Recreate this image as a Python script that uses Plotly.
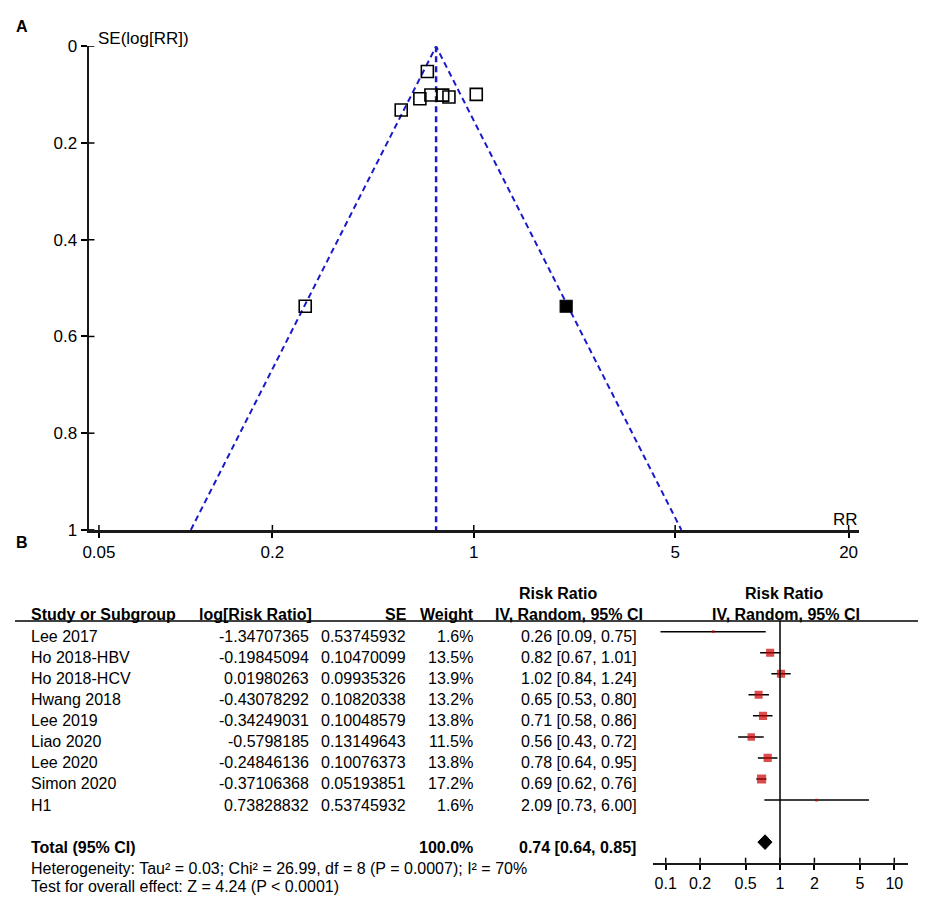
import numpy as np
import plotly.graph_objects as go

# target picture is 927x912; the page keeps the default 8px body margin,
# so the figure itself is made 16px smaller and every position is offset by 8
W, H = 927, 912
M = 8
PW, PH = W - 2 * M, H - 2 * M

# ---- data ----
studies = ["Lee 2017", "Ho 2018-HBV", "Ho 2018-HCV", "Hwang 2018", "Lee 2019",
           "Liao 2020", "Lee 2020", "Simon 2020", "H1"]
log_rr_txt = ["-1.34707365", "-0.19845094", "0.01980263", "-0.43078292", "-0.34249031",
              "-0.5798185", "-0.24846136", "-0.37106368", "0.73828832"]
se_txt = ["0.53745932", "0.10470099", "0.09935326", "0.10820338", "0.10048579",
          "0.13149643", "0.10076373", "0.05193851", "0.53745932"]
weight = [1.6, 13.5, 13.9, 13.2, 13.8, 11.5, 13.8, 17.2, 1.6]
rr = [0.26, 0.82, 1.02, 0.65, 0.71, 0.56, 0.78, 0.69, 2.09]
ci_lo = [0.09, 0.67, 0.84, 0.53, 0.58, 0.43, 0.64, 0.62, 0.73]
ci_hi = [0.75, 1.01, 1.24, 0.80, 0.86, 0.72, 0.95, 0.76, 6.00]
imputed = [False, False, False, False, False, False, False, False, True]

pooled_rr, pooled_lo, pooled_hi = 0.74, 0.64, 0.85
total_weight = "100.0%"
heterogeneity = "Heterogeneity: Tau² = 0.03; Chi² = 26.99, df = 8 (P = 0.0007); I² = 70%"
overall = "Test for overall effect: Z = 4.24 (P < 0.0001)"

funnel_xticks = [0.05, 0.2, 1, 5, 20]
funnel_yticks = [0, 0.2, 0.4, 0.6, 0.8, 1]
forest_xticks = [0.1, 0.2, 0.5, 1, 2, 5, 10]

log_rr = np.array([float(v) for v in log_rr_txt])
se = np.array([float(v) for v in se_txt])

FONT = "Liberation Sans, Arial, sans-serif"
BLUE = "#1a1acc"
RED = "#cc0000"


def px(x):
    return (x - M) / PW


def py(y):
    return 1 - (y - M) / PH


fig = go.Figure()

# ---- A: funnel plot ----
se_max = funnel_yticks[-1]
fig.add_trace(go.Scatter(
    x=[pooled_rr * np.exp(-1.96 * se_max), pooled_rr, pooled_rr * np.exp(1.96 * se_max)],
    y=[se_max, 0, se_max], mode="lines",
    line=dict(color=BLUE, width=2, dash="6px,4px"),
    xaxis="x", yaxis="y", showlegend=False, hoverinfo="skip"))
fig.add_trace(go.Scatter(
    x=[pooled_rr, pooled_rr], y=[0, se_max], mode="lines",
    line=dict(color=BLUE, width=2.5, dash="6px,4px"),
    xaxis="x", yaxis="y", showlegend=False, hoverinfo="skip"))
obs = [i for i in range(len(studies)) if not imputed[i]]
imp = [i for i in range(len(studies)) if imputed[i]]
fig.add_trace(go.Scatter(
    x=np.exp(log_rr[obs]), y=se[obs], mode="markers",
    marker=dict(symbol="square-open", size=12, color="black", line=dict(width=1.6)),
    xaxis="x", yaxis="y", showlegend=False))
fig.add_trace(go.Scatter(
    x=np.exp(log_rr[imp]), y=se[imp], mode="markers",
    marker=dict(symbol="square", size=12, color="black", line=dict(width=1.2, color="black")),
    xaxis="x", yaxis="y", showlegend=False))

# ---- B: forest plot ----
rows = list(range(len(studies)))
total_row = len(studies) + 1
cx, cy = [], []
for r, lo, hi in zip(rows, ci_lo, ci_hi):
    cx += [lo, hi, None]
    cy += [r, r, None]
fig.add_trace(go.Scatter(x=cx, y=cy, mode="lines", line=dict(color="black", width=1.5),
                         xaxis="x2", yaxis="y2", showlegend=False, hoverinfo="skip"))
fig.add_trace(go.Scatter(
    x=rr, y=rows, mode="markers",
    marker=dict(symbol="square", color=RED, size=[2.2 * np.sqrt(w) for w in weight],
                line=dict(width=0)),
    xaxis="x2", yaxis="y2", showlegend=False))
dh = 0.35
fig.add_trace(go.Scatter(
    x=[pooled_lo, pooled_rr, pooled_hi, pooled_rr, pooled_lo],
    y=[total_row, total_row - dh, total_row, total_row + dh, total_row],
    mode="lines", fill="toself", fillcolor="black", line=dict(color="black", width=1),
    xaxis="x2", yaxis="y2", showlegend=False, hoverinfo="skip"))

shapes = []
# crossing ticks (inner halves)
for t in funnel_xticks:
    shapes.append(dict(type="line", xref="x", yref="y", x0=t, x1=t, y0=1, y1=1 - 5 / 494,
                       line=dict(color="black", width=1.5)))
for t in funnel_yticks:
    shapes.append(dict(type="line", xref="x domain", yref="y", x0=0, x1=6 / 776, y0=t, y1=t,
                       line=dict(color="black", width=1.5)))
for t in forest_xticks:
    shapes.append(dict(type="line", xref="x2", yref="y2 domain", x0=t, x1=t, y0=0, y1=5 / 247,
                       line=dict(color="black", width=1.5)))
# line of no effect
shapes.append(dict(type="line", xref="x2", yref="y2 domain", x0=1, x1=1, y0=0, y1=1,
                   line=dict(color="black", width=1.5)))
# header rule
shapes.append(dict(type="line", xref="paper", yref="paper", x0=px(9), x1=px(918),
                   y0=py(625), y1=py(625), line=dict(color="black", width=1.5)))

ann = []


def txt(s, x, y, anchor="left", bold=False, size=16, yref="paper", yshift=0):
    if bold:
        s = "<b>" + s + "</b>"
    ann.append(dict(text=s, x=px(x), y=y, xref="paper", yref=yref, xanchor=anchor,
                    yanchor="middle", showarrow=False, yshift=yshift,
                    font=dict(family=FONT, size=size, color="black")))


txt("A", 8, py(18), bold=True, size=16)
txt("B", 8, py(545), bold=True, size=16)
txt("SE(log[RR])", 91, py(30), size=17)
txt("RR", 845, py(521), anchor="center", size=17)

# table headers
txt("Risk Ratio", 556, py(597), anchor="center", bold=True)
txt("Risk Ratio", 783, py(597), anchor="center", bold=True)
txt("Study or Subgroup", 23, py(618), bold=True)
txt("log[Risk Ratio]", 310, py(618), anchor="right", bold=True)
txt("SE", 406, py(618), anchor="right", bold=True)
txt("Weight", 473, py(618), anchor="right", bold=True)
txt("IV, Random, 95% CI", 643, py(618), anchor="right", bold=True)
txt("IV, Random, 95% CI", 785, py(618), anchor="center", bold=True)

for r in rows:
    txt(studies[r], 23, r, yref="y2", yshift=-5)
    txt(log_rr_txt[r], 307, r, anchor="right", yref="y2", yshift=-5)
    txt(se_txt[r], 405, r, anchor="right", yref="y2", yshift=-5)
    txt(f"{weight[r]:.1f}%", 472, r, anchor="right", yref="y2", yshift=-5)
    txt(f"{rr[r]:.2f} [{ci_lo[r]:.2f}, {ci_hi[r]:.2f}]", 637, r, anchor="right",
        yref="y2", yshift=-5)

txt("Total (95% CI)", 23, total_row, bold=True, yref="y2", yshift=-5)
txt(total_weight, 472, total_row, anchor="right", bold=True, yref="y2", yshift=-5)
txt(f"{pooled_rr:.2f} [{pooled_lo:.2f}, {pooled_hi:.2f}]", 636, total_row, anchor="right",
    bold=True, yref="y2", yshift=-5)
txt(heterogeneity, 23, py(878))
txt(overall, 23, py(896))

# forest y mapping: row r sits at pixel 636 + 21.5 r
r_top = (625 - 636) / 21.5
r_bot = (872 - 636) / 21.5

axis_common = dict(showline=True, linecolor="#1a1a1a", showgrid=False, zeroline=False,
                   ticks="outside", tickcolor="black", tickwidth=1.5, fixedrange=True)

fig.update_layout(
    width=PW, height=PH, margin=dict(l=0, r=0, t=0, b=0),
    plot_bgcolor="white", paper_bgcolor="white",
    font=dict(family=FONT, color="black"),
    xaxis=dict(type="log", domain=[px(83), px(859)],
               range=[np.log10(0.046), np.log10(21.8)], anchor="y",
               tickvals=funnel_xticks, ticktext=[str(t) for t in funnel_xticks],
               ticklen=5, linewidth=2.5, tickfont=dict(size=17), **axis_common),
    yaxis=dict(domain=[py(532), py(38)], range=[1, 0], anchor="x",
               tickvals=funnel_yticks, ticktext=["0", "0.2", "0.4", "0.6", "0.8", "1"],
               ticklen=6, linewidth=2, tickfont=dict(size=17), **axis_common),
    xaxis2=dict(type="log", domain=[px(651), px(908)],
                range=[np.log10(0.077), np.log10(13.2)], anchor="y2",
                tickvals=forest_xticks, ticktext=[str(t) for t in forest_xticks],
                ticklen=5, linewidth=2, tickfont=dict(size=16), **axis_common),
    yaxis2=dict(domain=[py(872), py(625)], range=[r_bot, r_top], anchor="x2",
                visible=False, fixedrange=True),
    shapes=shapes, annotations=ann,
)

fig.write_html("out.html")
